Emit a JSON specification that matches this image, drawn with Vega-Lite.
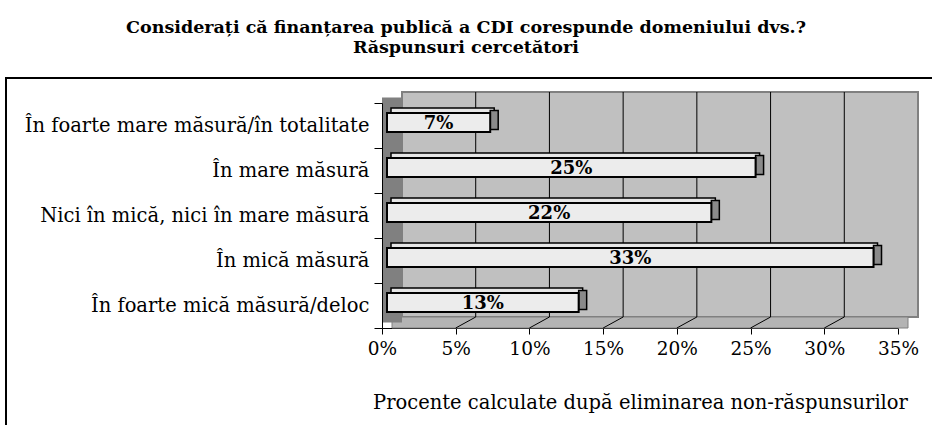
{
  "$schema": "https://vega.github.io/schema/vega-lite/v6.json",
  "autosize": {"type": "none"},
  "padding": {"left": 6, "top": 78, "right": 0, "bottom": 0},
  "width": 940,
  "height": 350,
  "background": "white",
  "config": {
    "view": {"stroke": "black", "strokeWidth": 2},
    "font": "DejaVu Serif"
  },
  "title": {
    "text": ["Considerați că finanțarea publică a CDI corespunde domeniului dvs.?", "Răspunsuri cercetători"],
    "font": "DejaVu Serif",
    "fontSize": 17.5,
    "fontWeight": "bold",
    "lineHeight": 20,
    "anchor": "middle",
    "frame": "group",
    "dx": -10,
    "offset": 12,
    "color": "black"
  },
  "data": {
    "values": [
      {"cat": "În foarte mare măsură/în totalitate", "v": 0.07},
      {"cat": "În mare măsură", "v": 0.25},
      {"cat": "Nici în mică, nici în mare măsură", "v": 0.22},
      {"cat": "În mică măsură", "v": 0.33},
      {"cat": "În foarte mică măsură/deloc", "v": 0.13}
    ]
  },
  "encoding": {
    "y": {
      "field": "cat",
      "type": "nominal",
      "sort": null,
      "scale": {
        "domain": ["În foarte mare măsură/în totalitate", "În mare măsură", "Nici în mică, nici în mare măsură", "În mică măsură", "În foarte mică măsură/deloc"],
        "range": [25, 250], "paddingInner": 0, "paddingOuter": 0
      },
      "axis": {
        "title": null,
        "offset": -376,
        "tickBand": "extent",
        "tickSize": 8,
        "tickColor": "black",
        "domainColor": "black",
        "labelFont": "DejaVu Serif",
        "labelFontSize": 19.5,
        "labelColor": "black",
        "labelPadding": 5,
        "labelLimit": 0
      }
    },
    "x": {
      "field": "v",
      "type": "quantitative",
      "scale": {"domain": [0, 0.35], "range": [376, 892], "nice": false, "zero": true},
      "axis": {
        "title": "Procente calculate după eliminarea non-răspunsurilor",
        "titleFont": "DejaVu Serif",
        "titleFontSize": 19.5,
        "titleFontWeight": "normal",
        "titleColor": "black",
        "titlePadding": 36,
        "offset": -100,
        "values": [0, 0.05, 0.1, 0.15, 0.2, 0.25, 0.3, 0.35],
        "format": ".0%",
        "grid": false,
        "tickSize": 6,
        "tickColor": "black",
        "domainColor": "black",
        "labelFont": "DejaVu Serif",
        "labelFontSize": 18.5,
        "labelColor": "black",
        "labelPadding": 5,
        "labelFlush": false,
        "labelOverlap": false
      }
    }
  },
  "layer": [
    {
      "data": {"values": [{"a": 0, "b": 0.35}]},
      "mark": {"type": "rect", "fill": "#c0c0c0", "stroke": "#808080", "strokeWidth": 2, "xOffset": 20, "x2Offset": 20, "yOffset": -11, "y2Offset": -11},
      "encoding": {
        "x": {"field": "a", "type": "quantitative"},
        "x2": {"field": "b"},
        "y": {"datum": "În foarte mare măsură/în totalitate", "type": "nominal", "bandPosition": 0},
        "y2": {"datum": "În foarte mică măsură/deloc", "bandPosition": 1}
      }
    },
    {
      "data": {"values": [{"a": 0, "b": 0.35}]},
      "mark": {"type": "rect", "fill": "#b4b4b4", "stroke": "#808080", "strokeWidth": 1, "xOffset": 10, "x2Offset": 10, "yOffset": -11, "y2Offset": 0},
      "encoding": {
        "x": {"field": "a", "type": "quantitative"},
        "x2": {"field": "b"},
        "y": {"datum": "În foarte mică măsură/deloc", "type": "nominal", "bandPosition": 1},
        "y2": {"datum": "În foarte mică măsură/deloc", "bandPosition": 1}
      }
    },
    {
      "data": {"values": [{"a": 0}]},
      "mark": {"type": "rect", "fill": "#808080", "xOffset": 0, "x2Offset": 20, "yOffset": -5.5, "y2Offset": -5.5},
      "encoding": {
        "x": {"field": "a", "type": "quantitative"},
        "x2": {"field": "a"},
        "y": {"datum": "În foarte mare măsură/în totalitate", "type": "nominal", "bandPosition": 0},
        "y2": {"datum": "În foarte mică măsură/deloc", "bandPosition": 1}
      }
    },
    {
      "data": {"values": [{"g": 0.05}, {"g": 0.1}, {"g": 0.15}, {"g": 0.2}, {"g": 0.25}, {"g": 0.3}]},
      "mark": {"type": "rule", "color": "black", "strokeWidth": 1, "xOffset": 20, "yOffset": -11, "y2Offset": -11},
      "encoding": {
        "x": {"field": "g", "type": "quantitative"},
        "y": {"datum": "În foarte mare măsură/în totalitate", "type": "nominal", "bandPosition": 0},
        "y2": {"datum": "În foarte mică măsură/deloc", "bandPosition": 1}
      }
    },
    {
      "data": {"values": [{"g": 0.05}, {"g": 0.1}, {"g": 0.15}, {"g": 0.2}, {"g": 0.25}, {"g": 0.3}]},
      "mark": {"type": "rule", "color": "black", "strokeWidth": 1, "xOffset": 0, "x2Offset": 20, "yOffset": 0, "y2Offset": -11},
      "encoding": {
        "x": {"field": "g", "type": "quantitative"},
        "x2": {"field": "g"},
        "y": {"datum": "În foarte mică măsură/deloc", "type": "nominal", "bandPosition": 1},
        "y2": {"datum": "În foarte mică măsură/deloc", "bandPosition": 1}
      }
    },
    {
      "mark": {"type": "bar", "size": 5, "fill": "#e6e6e6", "stroke": "black", "strokeWidth": 1.5, "xOffset": 9, "x2Offset": 9, "yOffset": -15},
      "encoding": {}
    },
    {
      "mark": {"type": "bar", "size": 19, "fill": "#8a8a8a", "stroke": "black", "strokeWidth": 1.5, "xOffset": 5, "x2Offset": 13, "yOffset": -5.5},
      "encoding": {
        "x2": {"field": "v"}
      }
    },
    {
      "mark": {"type": "bar", "size": 19, "fill": "#ececec", "stroke": "black", "strokeWidth": 2, "xOffset": 5, "x2Offset": 5, "yOffset": -3},
      "encoding": {}
    },
    {
      "transform": [{"calculate": "datum.v / 2", "as": "mid"}],
      "mark": {"type": "text", "font": "DejaVu Serif", "fontSize": 18, "fontWeight": "bold", "color": "black", "align": "center", "baseline": "middle", "xOffset": 5, "yOffset": -2},
      "encoding": {
        "x": {"field": "mid", "type": "quantitative"},
        "text": {"field": "v", "type": "quantitative", "format": ".0%"}
      }
    }
  ]
}
